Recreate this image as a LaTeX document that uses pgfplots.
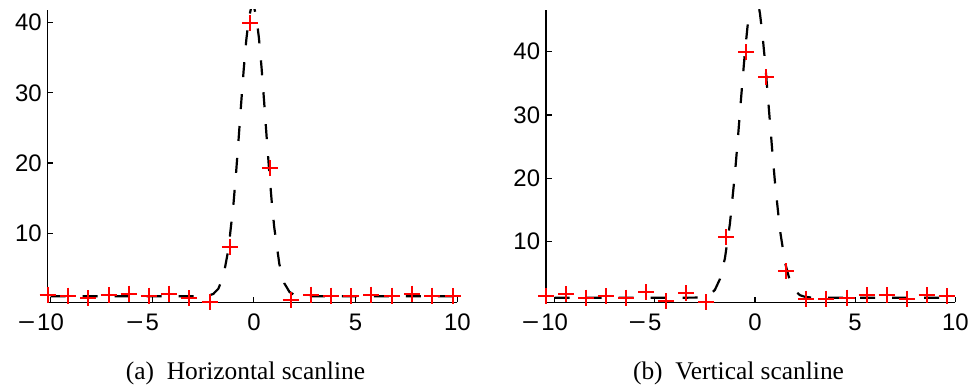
\documentclass[border=0pt]{standalone}
\usepackage{fontspec}
\setmainfont{Liberation Serif}
\newfontfamily\helv{Liberation Sans}
\usepackage{graphicx}
\usepackage{pgfplots}
\pgfplotsset{compat=1.18}
\usepackage{pgfplotstable}

% (a) horizontal scanline: measured samples
\pgfplotstableread{
x y
-10.14 1.13
-9.14 1.09
-8.15 0.76
-7.15 1.13
-6.16 1.37
-5.16 1.09
-4.17 1.37
-3.17 0.76
-2.18 0.15
-1.18 8.0
-0.19 39.9
0.81 19.3
1.80 0.52
2.80 1.23
3.79 1.09
4.79 0.99
5.78 1.23
6.78 1.09
7.77 1.37
8.77 1.09
9.77 0.99
}\hpts
% (a) fitted curve
\pgfplotstableread{
x y
-10 1
-9 1
-8 1
-7 1
-6 1
-5 1
-4 1
-3.5 1
-3 1
-2.5 1.02
-2.25 1.09
-2 1.34
-1.75 2.07
-1.5 3.90
-1.25 7.76
-1 14.37
-0.875 18.7
-0.75 23.55
-0.625 28.6
-0.5 33.4
-0.375 37.55
-0.25 40.6
-0.125 42.28
0 42.3
0.125 40.7
0.25 37.7
0.375 33.6
0.5 28.8
0.625 23.7
0.75 18.9
0.875 14.5
1 10.8
1.25 5.6
1.5 2.83
1.75 1.62
2 1.18
2.25 1.04
2.5 1.01
3 1
3.5 1
4 1
5 1
6 1
7 1
8 1
9 1
10 1
}\hfit
% (b) vertical scanline: measured samples
\pgfplotstableread{
x y
-10.43 1.43
-9.43 1.70
-8.43 1.18
-7.43 1.43
-6.43 1.18
-5.43 2.06
-4.43 0.65
-3.43 1.86
-2.43 0.45
-1.43 10.7
-0.43 39.9
0.57 35.98
1.57 5.37
2.57 1.02
3.57 1.02
4.57 1.18
5.57 1.54
6.57 1.54
7.57 1.02
8.57 1.54
9.57 1.43
}\vpts
% (b) fitted curve
\pgfplotstableread{
x y
-10 1.18
-9 1.18
-8 1.18
-7 1.18
-6 1.18
-5 1.18
-4 1.18
-3.5 1.18
-3 1.19
-2.75 1.23
-2.5 1.33
-2.25 1.64
-2 2.41
-1.75 4.11
-1.5 7.37
-1.25 12.85
-1 20.73
-0.875 25.4
-0.75 30.4
-0.625 35.3
-0.5 39.9
-0.375 43.85
-0.25 46.9
-0.125 48.7
0 49.2
0.125 48.2
0.25 46.0
0.375 42.65
0.5 38.5
0.625 33.7
0.75 28.8
0.875 23.9
1 19.33
1.25 11.81
1.5 6.72
1.75 3.75
2 2.24
2.25 1.57
2.5 1.31
2.75 1.22
3 1.19
3.5 1.18
4 1.18
5 1.18
6 1.18
7 1.18
8 1.18
9 1.18
10 1.18
}\vfit

\newcommand{\mneg}{\llap{\scalebox{1.25}[1]{−}\kern2bp}}

\begin{document}
\begin{tikzpicture}
\path[use as bounding box] (0,0) rectangle (974bp,387bp);
\pgfplotsset{
  scan/.style={
    scale only axis, height=292.3bp, anchor=south west,
    axis x line*=bottom, axis y line*=left,
    tick align=inside, major tick length=5.5bp,
    xtick={-10,-5,0,5,10}, xticklabels={\mneg10,\mneg5,0,5,10},
    ytick={10,20,30,40},
    tick label style={font=\helv\fontsize{24}{24}\selectfont},
    /pgf/number format/assume math mode=true,
    xticklabel style={yshift=-8bp},
    yticklabel style={xshift=-2.4bp},
    axis line style={line width=1.1bp},
    every tick/.style={black, line width=1.1bp},
  },
  pts/.style={only marks, mark=+, mark size=8bp, mark options={line width=2bp, solid}, color=red},
  fitc/.style={no marks, black, line width=2.2bp, dash pattern=on 15bp off 17bp},
}
\begin{axis}[scan, at={(47.7bp,84.7bp)}, width=409.6bp,
  xmin=-10.14, xmax=10, ymin=0.15, ymax=41.8]
  \addplot[pts] table {\hpts};
  \addplot[fitc] table {\hfit};
\end{axis}
\begin{axis}[scan, at={(546bp,84.7bp)}, width=409.3bp,
  xmin=-10.43, xmax=10, ymin=0.45, ymax=46.56]
  \addplot[pts] table {\vpts};
  \addplot[fitc] table {\vfit};
\end{axis}
\node[anchor=base, font=\fontsize{25.5}{26}\selectfont] at (245.5bp,7.5bp) {(a)\enspace Horizontal scanline};
\node[anchor=base, font=\fontsize{25.5}{26}\selectfont] at (738.5bp,7.5bp) {(b)\enspace Vertical scanline};
\end{tikzpicture}
\end{document}
